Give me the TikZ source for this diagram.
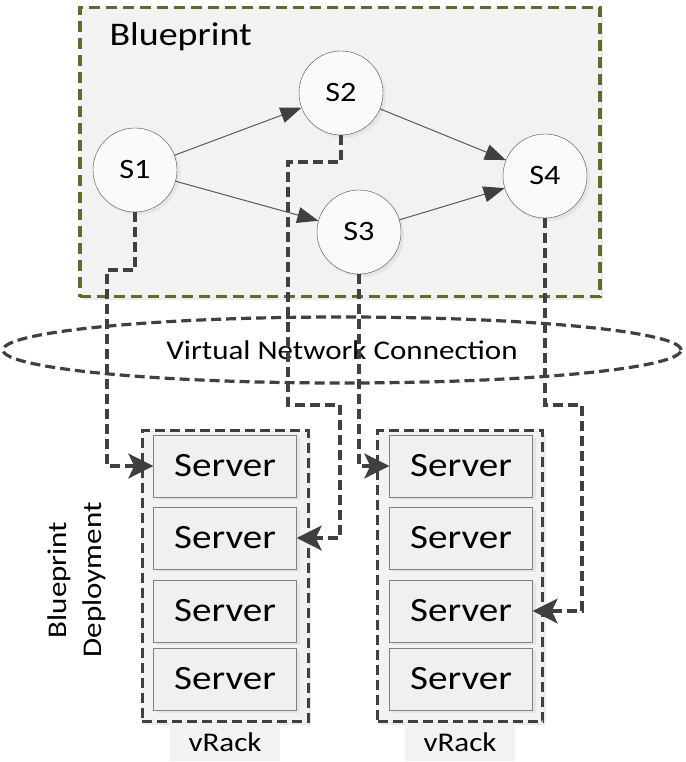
\documentclass[tikz,border=0pt]{standalone}
\usepackage{fontspec}
\setmainfont{Carlito}[FakeStretch=1.15]
\usetikzlibrary{arrows.meta,shapes.geometric,shadows}

\definecolor{bpgreen}{HTML}{5E6B2F}
\definecolor{bpfill}{HTML}{F2F2F2}
\definecolor{linegray}{HTML}{404040}

\begin{document}
\begin{tikzpicture}[x=1pt,y=-1pt,
	shade/.style={drop shadow={shadow xshift=3pt,shadow yshift=-3pt,fill=black!15}},
	stage/.style={circle,draw=black!70,fill=black!2,minimum size=84pt,inner sep=0pt,
		font=\fontsize{28}{30}\selectfont,shade},
	srv/.style={rectangle,draw=black!50,fill=black!6,minimum width=143pt,
		minimum height=62pt,inner sep=0pt,font=\fontsize{34}{36}\selectfont,shade},
	rack/.style={rectangle,draw=linegray,fill=bpfill,line width=3pt,
		dash pattern=on 10pt off 5pt,minimum height=291pt,shade},
	tag/.style={fill=bpfill,minimum width=110pt,minimum height=38pt,
		font=\fontsize{27}{30}\selectfont},
	flow/.style={draw=black!65,line width=1pt,
		-{Triangle[length=21pt,width=16pt,color=linegray]}},
	link/.style={draw=linegray,line width=3.2pt,dash pattern=on 10pt off 5pt,
		-{Stealth[length=25pt,width=25pt,inset=6pt]}}]
	% page frame
	\useasboundingbox (0,0) rectangle (685,762);

	% the blueprint with its four stages
	\node[draw=bpgreen,fill=bpfill,line width=3.2pt,dash pattern=on 11pt off 6pt,
		minimum width=520pt,minimum height=289pt,shade] (bp) at (340,152) {};
	\node[anchor=base west,font=\fontsize{33}{36}\selectfont] (bptitle) at (106,46) {Blueprint};
	\node[stage] (s1) at (135,170) {S1};
	\node[stage] (s2) at (341,93) {S2};
	\node[stage] (s3) at (359,232) {S3};
	\node[stage] (s4) at (545,176) {S4};
	\draw[flow] (s1) -- (s2);
	\draw[flow] (s1) -- (s3);
	\draw[flow] (s2) -- (s4);
	\draw[flow] (s3) -- (s4);

	% virtual network
	\node[ellipse,draw=linegray,line width=3.2pt,dash pattern=on 10pt off 5pt,
		minimum width=678pt,minimum height=66pt,font=\fontsize{27}{30}\selectfont]
		(vnet) at (342,350) {Virtual Network Connection};

	% two racks, four servers each
	\node[rack,minimum width=166pt] (lrack) at (225,576) {};
	\node[rack,minimum width=165pt] (rrack) at (460,576) {};
	\foreach \y [count=\i] in {466,538,611,679}
	{
		\node[srv] (lsrv\i) at (225,\y) {Server};
		\node[srv] (rsrv\i) at (461,\y) {Server};
	}
	\node[tag] (ltag) at (225,742) {vRack};
	\node[tag] (rtag) at (460,742) {vRack};
	\node[rotate=90,align=center,font=\fontsize{27}{35}\selectfont] (deploy) at (77,580)
		{Blueprint\\Deployment};

	% deployment of each stage onto a server
	\draw[link] (s1.south) |- (107,270) |- (lsrv1.west);
	\draw[link] (s2.south) |- (288,162) |- (340,405) |- (lsrv2.east);
	\draw[link] (s3.south) |- (rsrv1.west);
	\draw[link] (s4.south) |- (582,405) |- (rsrv3.east);
\end{tikzpicture}
\end{document}
